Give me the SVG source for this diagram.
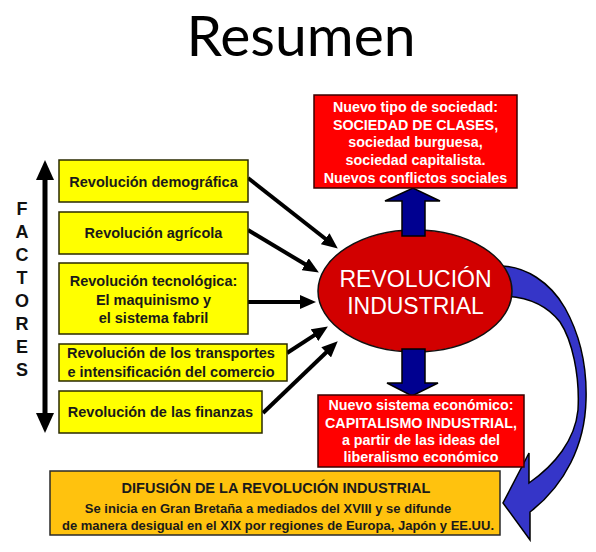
<svg xmlns="http://www.w3.org/2000/svg" width="596" height="552" viewBox="0 0 596 552">
<defs>
<style>
.yb{fill:#FFFF00;stroke:#2a2a00;stroke-width:1.5}
.rb{fill:#FF0000;stroke:#3a0000;stroke-width:1.5}
.ob{fill:#FFC20E;stroke:#2a2a2a;stroke-width:1.5}
.t{font-family:"Liberation Sans",Arial,sans-serif;font-weight:bold;text-anchor:middle}
.ty{font-size:14.5px;fill:#1a1a1a}
.tw{font-size:14.3px;fill:#ffffff}
.fac{font-family:"Liberation Sans",Arial,sans-serif;font-weight:bold;font-size:18px;fill:#111;text-anchor:middle}
.blk{stroke:#000;stroke-width:4;fill:none;marker-end:url(#ah)}
.nv{fill:#000090;stroke:#000;stroke-width:1.5;stroke-linejoin:miter}
</style>
<marker id="ah" viewBox="0 0 16 14" refX="1" refY="7" markerUnits="userSpaceOnUse" markerWidth="16" markerHeight="14" orient="auto">
<path d="M0,0 L16,7 L0,14 Z" fill="#000"/>
</marker>
</defs>
<rect width="596" height="552" fill="#ffffff"/>

<text x="301" y="56" font-family="Lato,'Open Sans',sans-serif" font-size="57" fill="#000" text-anchor="middle">Resumen</text>

<g id="factores">
<path d="M42.5,179 L47.5,179 L47.5,414 L42.5,414 Z" fill="#000"/>
<path d="M45,160 L54,180 L36,180 Z" fill="#000"/>
<path d="M45,433 L54,413 L36,413 Z" fill="#000"/>
<text class="fac" x="22" y="215">F</text>
<text class="fac" x="22" y="238">A</text>
<text class="fac" x="22" y="261">C</text>
<text class="fac" x="22" y="284">T</text>
<text class="fac" x="22" y="307">O</text>
<text class="fac" x="22" y="330">R</text>
<text class="fac" x="22" y="353">E</text>
<text class="fac" x="22" y="376">S</text>
</g>

<g id="connectors">
<line class="blk" x1="248" y1="178" x2="326" y2="239.3"/>
<line class="blk" x1="248" y1="230" x2="306" y2="264.8"/>
<line class="blk" x1="248" y1="302" x2="301" y2="302"/>
<line class="blk" x1="287" y1="353" x2="315.3" y2="334.6"/>
<line class="blk" x1="263" y1="413" x2="326.9" y2="351.7"/>
<path id="curved-arrow" d="M500,266 C525,266 550,282 565,308 C580,335 587,368 586,400 C585,445 565,485 530,512 L530,540 L503,503 L529,453 L529,483 C555,465 575,440 578,410 C580,375 572,340 560,322 C545,303 525,296 500,296 Z" fill="#3535C8" stroke="#000" stroke-width="1.5" stroke-linejoin="miter"/>
</g>

<g id="n-demografica">
<rect class="yb" x="59" y="160" width="189" height="42"/>
<text class="t ty" x="153.5" y="187">Revolución demográfica</text>
</g>
<g id="n-agricola">
<rect class="yb" x="59" y="212" width="189" height="42"/>
<text class="t ty" x="153.5" y="238">Revolución agrícola</text>
</g>
<g id="n-tecnologica">
<rect class="yb" x="59" y="263" width="189" height="71"/>
<text class="t ty" x="153.5" y="286">Revolución tecnológica:</text>
<text class="t ty" x="153.5" y="305">El maquinismo y</text>
<text class="t ty" x="153.5" y="323">el sistema fabril</text>
</g>
<g id="n-transportes">
<rect class="yb" x="59" y="344" width="228" height="37"/>
<text class="t ty" x="171" y="358">Revolución de los transportes</text>
<text class="t ty" x="171" y="377">e intensificación del comercio</text>
</g>
<g id="n-finanzas">
<rect class="yb" x="59" y="391" width="203" height="42"/>
<text class="t ty" x="160.5" y="417">Revolución de las finanzas</text>
</g>

<g id="n-revolucion">
<ellipse cx="415" cy="291" rx="97" ry="61" fill="#D20000" stroke="#111" stroke-width="1.5"/>
<text x="415.5" y="287" font-family="'Liberation Sans',Arial,sans-serif" font-size="23" fill="#fff" text-anchor="middle">REVOLUCIÓN</text>
<text x="415.5" y="314" font-family="'Liberation Sans',Arial,sans-serif" font-size="23" fill="#fff" text-anchor="middle">INDUSTRIAL</text>
</g>

<g id="arrows-blue">
<path class="nv" d="M402,236 L402,201 L385,201 L413,188 L440,201 L425,201 L425,236 Z"/>
<path class="nv" d="M402,349 L402,383 L387,383 L412,396 L438,383 L425,383 L425,349 Z"/>
</g>

<g id="n-sociedad">
<rect class="rb" x="314" y="95" width="203" height="93"/>
<text class="t tw" x="415.5" y="112">Nuevo tipo de sociedad:</text>
<text class="t tw" x="415.5" y="129.5">SOCIEDAD DE CLASES,</text>
<text class="t tw" x="415.5" y="147">sociedad burguesa,</text>
<text class="t tw" x="415.5" y="165">sociedad capitalista.</text>
<text class="t tw" x="415.5" y="183">Nuevos conflictos sociales</text>
</g>

<g id="n-economico">
<rect class="rb" x="318" y="395" width="206" height="72"/>
<text class="t tw" x="421" y="410">Nuevo sistema económico:</text>
<text class="t tw" x="421" y="427.5">CAPITALISMO INDUSTRIAL,</text>
<text class="t tw" x="421" y="445">a partir de las ideas del</text>
<text class="t tw" x="421" y="462">liberalismo económico</text>
</g>

<g id="n-difusion">
<rect class="ob" x="50" y="471" width="450" height="64"/>
<text class="t" x="276" y="493" font-size="14.5" fill="#1a1a1a">DIFUSIÓN DE LA REVOLUCIÓN INDUSTRIAL</text>
<text class="t" x="268" y="513" font-size="13" fill="#1a1a1a">Se inicia en Gran Bretaña a mediados del XVIII y se difunde</text>
<text class="t" x="278" y="530" font-size="13" fill="#1a1a1a">de manera desigual en el XIX por regiones de Europa, Japón y EE.UU.</text>
</g>
</svg>
